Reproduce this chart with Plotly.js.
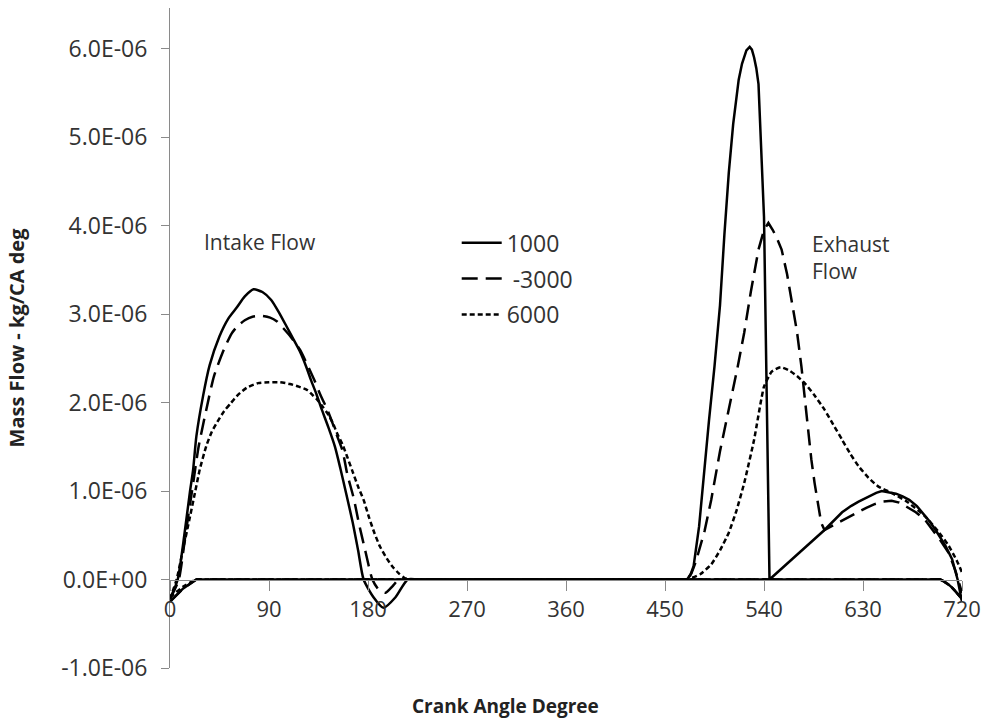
<!DOCTYPE html>
<html>
<head>
<meta charset="utf-8">
<script src="https://cdn.plot.ly/plotly-3.0.1.min.js"></script>
<style>html,body{margin:0;padding:0;background:#fff;}#chart{width:989px;height:722px;}</style>
</head>
<body>
<div id="chart"></div>
<script>
// Crank angle (deg) and mass flow (kg/CA deg)
const speeds = ["1000", "3000", "6000"];

const intakeAngle1000 = [0,7,13,18,21,24,30,36,45,53,61,68,76,84,92,99,106,112,118,124,128,133,138,144,150,155,160,166,171,176,185,194,205,216,226,690,700,710,720];
const intakeFlow1000 = [-0.22e-6,0,0.5e-6,0.98e-6,1.24e-6,1.62e-6,2.07e-6,2.42e-6,2.75e-6,2.95e-6,3.08e-6,3.2e-6,3.28e-6,3.25e-6,3.16e-6,3.02e-6,2.86e-6,2.72e-6,2.58e-6,2.40e-6,2.26e-6,2.1e-6,1.92e-6,1.72e-6,1.5e-6,1.25e-6,0.98e-6,0.65e-6,0.33e-6,0,-0.2e-6,-0.32e-6,-0.2e-6,0,0,0,0,-0.08e-6,-0.22e-6];

const intakeAngle3000 = [0,8,14,20,26,33,40,49,56,61,68,75,83,91,97,103,110,118,124,131,137,143,148,152,157,161,167,172,178,184,190,196,202,208,218,690,700,710,720];
const intakeFlow3000 = [-0.22e-6,0,0.5e-6,1.0e-6,1.5e-6,1.92e-6,2.3e-6,2.6e-6,2.78e-6,2.86e-6,2.93e-6,2.97e-6,2.98e-6,2.96e-6,2.92e-6,2.84e-6,2.74e-6,2.6e-6,2.45e-6,2.26e-6,2.08e-6,1.92e-6,1.76e-6,1.62e-6,1.45e-6,1.2e-6,0.92e-6,0.62e-6,0.3e-6,0,-0.12e-6,-0.15e-6,-0.08e-6,0,0,0,0,-0.08e-6,-0.22e-6];

const intakeAngle6000 = [0,6,12,18,23,27,33,38,43,49,55,62,70,80,90,100,109,117,125,130,134,139,143,148,152,157,161,166,171,176,181,186,191,197,202,208,213,218,228,690,700,710,720];
const intakeFlow6000 = [-0.22e-6,0,0.35e-6,0.7e-6,1.0e-6,1.24e-6,1.51e-6,1.67e-6,1.78e-6,1.9e-6,1.99e-6,2.09e-6,2.17e-6,2.22e-6,2.23e-6,2.23e-6,2.21e-6,2.18e-6,2.14e-6,2.08e-6,2.03e-6,1.95e-6,1.88e-6,1.77e-6,1.65e-6,1.52e-6,1.39e-6,1.22e-6,1.05e-6,0.9e-6,0.7e-6,0.52e-6,0.37e-6,0.24e-6,0.15e-6,0.07e-6,0.02e-6,0,0,0,0,-0.08e-6,-0.22e-6];

const exhaustAngle1000 = [0,12,24,34,460,470,473,476,481,486,490,495,500,504,508,512,517,520,522,524,527,529,531,533,535,537,538,540,545,570,595,611,619,626,632,637,642,647,653,660,666,672,679,685,691,696,701,705,711,716,720];
const exhaustFlow1000 = [-0.25e-6,-0.1e-6,0,0,0,0,0.05e-6,0.15e-6,0.6e-6,1.28e-6,1.8e-6,2.41e-6,3.1e-6,3.9e-6,4.6e-6,5.15e-6,5.65e-6,5.83e-6,5.92e-6,5.98e-6,6.02e-6,5.99e-6,5.9e-6,5.78e-6,5.6e-6,5.1e-6,4.7e-6,4.1e-6,0,0.28e-6,0.56e-6,0.76e-6,0.83e-6,0.88e-6,0.92e-6,0.95e-6,0.98e-6,1.0e-6,0.99e-6,0.97e-6,0.94e-6,0.9e-6,0.83e-6,0.74e-6,0.65e-6,0.56e-6,0.46e-6,0.38e-6,0.23e-6,0,-0.25e-6];

const exhaustAngle3000 = [0,12,24,34,460,470,474,478,486,492,500,510,516,522,528,535,540,544,548,552,556,561,565,570,574,577,580,583,586,589,592,595,610,626,633,640,648,656,663,670,678,686,693,700,708,714,720];
const exhaustFlow3000 = [-0.25e-6,-0.1e-6,0,0,0,0,0.07e-6,0.2e-6,0.55e-6,0.9e-6,1.45e-6,2.03e-6,2.4e-6,2.79e-6,3.25e-6,3.73e-6,3.95e-6,4.03e-6,3.95e-6,3.85e-6,3.73e-6,3.45e-6,3.16e-6,2.8e-6,2.41e-6,2.05e-6,1.66e-6,1.36e-6,1.09e-6,0.85e-6,0.64e-6,0.56e-6,0.66e-6,0.77e-6,0.81e-6,0.85e-6,0.88e-6,0.89e-6,0.87e-6,0.82e-6,0.76e-6,0.68e-6,0.57e-6,0.45e-6,0.3e-6,0.1e-6,-0.15e-6];

const exhaustAngle6000 = [0,12,24,34,460,470,482,492,500,508,515,522,531,540,547,555,562,570,577,586,595,603,611,618,626,635,644,656,670,686,698,708,715,720];
const exhaustFlow6000 = [-0.2e-6,-0.08e-6,0,0,0,0,0.06e-6,0.17e-6,0.33e-6,0.53e-6,0.78e-6,1.09e-6,1.58e-6,2.18e-6,2.35e-6,2.40e-6,2.37e-6,2.3e-6,2.22e-6,2.08e-6,1.92e-6,1.75e-6,1.58e-6,1.43e-6,1.28e-6,1.15e-6,1.05e-6,0.98e-6,0.88e-6,0.72e-6,0.55e-6,0.38e-6,0.22e-6,0.08e-6];

const xTickVals = [0,90,180,270,360,450,540,630,720];
const yTickVals = [-1e-6,0,1e-6,2e-6,3e-6,4e-6,5e-6,6e-6];
const yTickText = ["-1.0E-06","0.0E+00","1.0E-06","2.0E-06","3.0E-06","4.0E-06","5.0E-06","6.0E-06"];

const FONT = '"Open Sans", "DejaVu Sans", sans-serif';
const dashes = ["solid", "16px,8px", "5px,3px"];
const exhaustShapes = ["linear", "linear", "spline"];
const intakeX = [intakeAngle1000, intakeAngle3000, intakeAngle6000];
const intakeY = [intakeFlow1000, intakeFlow3000, intakeFlow6000];
const exhaustX = [exhaustAngle1000, exhaustAngle3000, exhaustAngle6000];
const exhaustY = [exhaustFlow1000, exhaustFlow3000, exhaustFlow6000];

const traces = [];
speeds.forEach((s, i) => {
  traces.push({
    x: intakeX[i], y: intakeY[i], type: 'scatter', mode: 'lines',
    name: (i === 1 ? ' -' : '') + s, legendgroup: s, showlegend: true,
    line: {color: '#000', width: 2.5, dash: dashes[i], shape: 'spline', smoothing: 0.6},
    hoverinfo: 'x+y'
  });
  traces.push({
    x: exhaustX[i], y: exhaustY[i], type: 'scatter', mode: 'lines',
    name: s + ' exhaust', legendgroup: s, showlegend: false,
    line: {color: '#000', width: 2.5, dash: dashes[i], shape: exhaustShapes[i], smoothing: 0.45},
    hoverinfo: 'x+y'
  });
});

const yMin = -1e-6, yMax = 6.46e-6;
const layout = {
  width: 989, height: 722,
  margin: {l: 170, r: 27, t: 8, b: 54},
  paper_bgcolor: '#fff', plot_bgcolor: '#fff',
  font: {family: FONT, color: '#333'},
  showlegend: true,
  legend: {
    x: 0.362, y: 0.677, xanchor: 'left', yanchor: 'top',
    bgcolor: 'rgba(0,0,0,0)', traceorder: 'grouped', tracegroupgap: 3, itemwidth: 40,
    font: {family: FONT, size: 23, color: '#333'}
  },
  xaxis: {
    range: [0, 720], tickvals: xTickVals,
    anchor: 'free', position: (0 - yMin) / (yMax - yMin),
    showline: true, linecolor: '#8a8a8a', linewidth: 1,
    ticks: 'outside', ticklen: 10, tickcolor: '#8a8a8a', tickwidth: 1,
    showgrid: false, zeroline: false,
    tickfont: {family: FONT, size: 22, color: '#333'}
  },
  yaxis: {
    range: [yMin, yMax], tickvals: yTickVals, ticktext: yTickText,
    showline: true, linecolor: '#8a8a8a', linewidth: 1,
    ticks: 'outside', ticklen: 8, tickcolor: '#8a8a8a', tickwidth: 1,
    ticklabelstandoff: 9,
    showgrid: false, zeroline: false,
    tickfont: {family: FONT, size: 23, color: '#333'},
    title: {text: '<b>Mass Flow - kg/CA deg</b>', standoff: 31, font: {family: FONT, size: 20, color: '#222'}}
  },
  annotations: [
    {xref: 'paper', yref: 'paper', x: 0.424, y: -0.058, text: '<b>Crank Angle Degree</b>', showarrow: false,
     xanchor: 'center', yanchor: 'middle', font: {family: FONT, size: 19, color: '#222'}},
    {xref: 'x', yref: 'y', x: 82, y: 3.82e-6, text: 'Intake Flow', showarrow: false,
     xanchor: 'center', yanchor: 'middle', font: {family: FONT, size: 21, color: '#333'}},
    {xref: 'x', yref: 'y', x: 582, y: 3.64e-6, text: 'Exhaust<br>Flow', showarrow: false,
     xanchor: 'left', yanchor: 'middle', align: 'left', font: {family: FONT, size: 21, color: '#333'}}
  ]
};

Plotly.newPlot('chart', traces, layout, {displayModeBar: false});
</script>
</body>
</html>
